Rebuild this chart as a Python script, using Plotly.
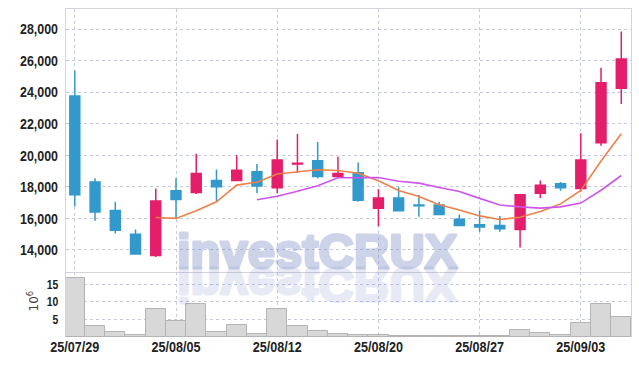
import plotly.graph_objects as go

dates = ["25/07/29", "25/07/30", "25/07/31", "25/08/01", "25/08/04", "25/08/05", "25/08/06",
         "25/08/07", "25/08/08", "25/08/11", "25/08/12", "25/08/13", "25/08/14", "25/08/18",
         "25/08/19", "25/08/20", "25/08/21", "25/08/22", "25/08/25", "25/08/26", "25/08/27",
         "25/08/28", "25/08/29", "25/09/01", "25/09/02", "25/09/03", "25/09/04", "25/09/05"]

open_ = [23750, 18300, 16500, 15000, 13650, 17750, 17650, 18400, 18400, 18950, 17950, 19450, 19650, 18650,
         18900, 16650, 17300, 16850, 16850, 15950, 15600, 15550, 15300, 17600, 18200, 17900, 20800, 24250]
high = [25350, 18550, 17050, 15300, 17900, 18550, 20100, 19100, 20000, 19450, 21000, 21350, 20850, 19900,
        19550, 17850, 17980, 17500, 17050, 16250, 16500, 16150, 17550, 18400, 18300, 21400, 25550, 27850]
low = [16750, 15850, 15050, 13700, 13550, 16000, 17550, 17100, 18350, 17600, 17600, 18900, 18550, 18600,
       17050, 15500, 16450, 16100, 16250, 15550, 15150, 15150, 14150, 17300, 17750, 17700, 20600, 23250]
close = [17500, 16400, 15250, 13750, 17100, 17200, 18850, 18000, 19050, 18050, 19700, 19500, 18650, 18850,
         17150, 17300, 16480, 16800, 16250, 15550, 15450, 15350, 17500, 18100, 17950, 19700, 24600, 26100]

ma5 = [None, None, None, None, 16060, 16000, 16490, 17050, 18110, 18300, 18810, 18950, 19080, 19040,
       18860, 18380, 17770, 17390, 16870, 16540, 16160, 15930, 16070, 16440, 16920, 17780, 19640, 21370]
ma10 = [None, None, None, None, None, None, None, None, None, 17180, 17405, 17720, 18065, 18575,
        18580, 18595, 18360, 18235, 17955, 17700, 17270, 16850, 16730, 16655, 16730, 16970, 17785, 18720]

volume_m = [16.7, 3.1, 1.4, 0.6, 7.9, 4.6, 9.4, 1.4, 3.4, 0.9, 7.9, 3.1, 1.7, 0.9,
            0.7, 0.6, 0.4, 0.35, 0.3, 0.25, 0.4, 0.15, 2.0, 1.2, 0.6, 4.0, 9.4, 5.6]

price_ticks = [14000, 16000, 18000, 20000, 22000, 24000, 26000, 28000]
volume_ticks = [5, 10, 15]
date_tick_idx = [0, 5, 10, 15, 20, 25]

UP = "#e41e6a"
DOWN = "#3399cc"
GRID = "#c5c9df"
FRAME = "#d3d3dc"
TICKFONT = dict(family="Liberation Sans, Arial, sans-serif", size=15, color="#222222", weight="bold")

fig = go.Figure()

fig.add_trace(go.Candlestick(
    x=dates, open=open_, high=high, low=low, close=close,
    increasing=dict(line=dict(color=UP, width=1.5), fillcolor=UP),
    decreasing=dict(line=dict(color=DOWN, width=1.5), fillcolor=DOWN),
    xaxis="x", yaxis="y", showlegend=False, hoverinfo="skip"))

fig.add_trace(go.Scatter(x=dates, y=ma5, mode="lines", line=dict(color="#ee8048", width=1.6),
                         xaxis="x", yaxis="y", showlegend=False, connectgaps=False, hoverinfo="skip"))
fig.add_trace(go.Scatter(x=dates, y=ma10, mode="lines", line=dict(color="#cc55ee", width=1.6),
                         xaxis="x", yaxis="y", showlegend=False, connectgaps=False, hoverinfo="skip"))

fig.add_trace(go.Bar(x=dates, y=volume_m, marker=dict(color="#d8d8d8", line=dict(color="#b4b4b4", width=1)),
                     xaxis="x2", yaxis="y2", showlegend=False, hoverinfo="skip"))

split = 0.1982
xr = [-0.435, 27.48]
tickvals = [dates[i] for i in date_tick_idx]

fig.update_layout(
    width=639, height=366,
    margin=dict(l=66, r=8, t=9, b=29),
    paper_bgcolor="white", plot_bgcolor="white",
    bargap=0, boxgap=0.3,
    xaxis=dict(type="category", range=xr, domain=[0, 1], anchor="y", automargin=False,
               tickvals=tickvals, showticklabels=False, ticks="",
               showgrid=True, gridcolor=GRID, griddash="dot", gridwidth=1,
               showline=True, linecolor=FRAME, linewidth=1, mirror=True,
               rangeslider=dict(visible=False), zeroline=False),
    yaxis=dict(domain=[split, 1], range=[12606, 29269], anchor="x", automargin=False,
               tickvals=price_ticks, tickformat=",d", tickfont=TICKFONT,
               ticks="outside", ticklen=4, tickcolor="rgba(0,0,0,0)",
               showgrid=True, gridcolor=GRID, griddash="dot", gridwidth=1,
               showline=True, linecolor=FRAME, linewidth=1, mirror=True, zeroline=False),
    xaxis2=dict(type="category", range=xr, domain=[0, 1], anchor="y2", matches="x", automargin=False,
                tickvals=tickvals, ticktext=tickvals, tickfont=dict(TICKFONT, size=14),
                ticks="", showgrid=True, gridcolor=GRID, griddash="dot", gridwidth=1,
                showline=False, zeroline=False),
    yaxis2=dict(domain=[0, split], range=[0, 18.45], anchor="x2", automargin=False,
                tickvals=volume_ticks, tickfont=dict(TICKFONT, size=13),
                ticks="outside", ticklen=4, tickcolor="rgba(0,0,0,0)",
                showgrid=True, gridcolor=GRID, griddash="dot", gridwidth=1,
                showline=True, linecolor=FRAME, linewidth=1, mirror=True, zeroline=False),
)

wm_y = split - 8.0 / 328
for alpha in (0.36, 0.17):
    fig.add_annotation(text="investCRUX", xref="paper", yref="paper", x=0.4455, y=wm_y,
                       xanchor="center", yanchor="bottom", showarrow=False, opacity=alpha,
                       font=dict(family="Liberation Sans, Arial, sans-serif", size=49, weight="bold",
                                 color="rgb(120,138,195)"))
fig.add_annotation(text="10<sup>6</sup>", xref="paper", yref="paper", x=-0.058, y=split / 2 + 0.01,
                   xanchor="center", yanchor="middle", textangle=-90, showarrow=False,
                   font=dict(family="DejaVu Sans, sans-serif", size=12, color="#444444"))

post_js = """
document.body.style.margin = '0';
document.body.style.padding = '0';
var gd = document.getElementById('{plot_id}');
['0', '1'].forEach(function (idx) {
  var t = gd.querySelector('g.annotation[data-index="' + idx + '"] text.annotation-text');
  if (!t) return;
  t.style.stroke = 'rgb(120,138,195)';
  t.style.strokeWidth = '3px';
  t.style.strokeLinejoin = 'round';
  if (idx === '1') {
    var y0 = parseFloat(t.getAttribute('y')) || 0;
    t.setAttribute('transform', 'translate(0,' + (2 * y0) + ') scale(1,-1)');
  }
});
function squeeze(sel, s, mode) {
  gd.querySelectorAll(sel).forEach(function (t) {
    var b = t.getBBox();
    var ax = mode === 'end' ? b.x + b.width : b.x + b.width / 2;
    var orig = t.getAttribute('transform') || '';
    t.setAttribute('transform', orig + ' translate(' + ax + ',0) scale(' + s + ',1) translate(' + (-ax) + ',0)');
  });
}
squeeze('g.ytick text', 0.83, 'end');
squeeze('g.y2tick text', 0.8, 'end');
squeeze('g.x2tick text', 0.9, 'middle');
"""

fig.write_html("out.html", post_script=post_js, config={"displayModeBar": False})
